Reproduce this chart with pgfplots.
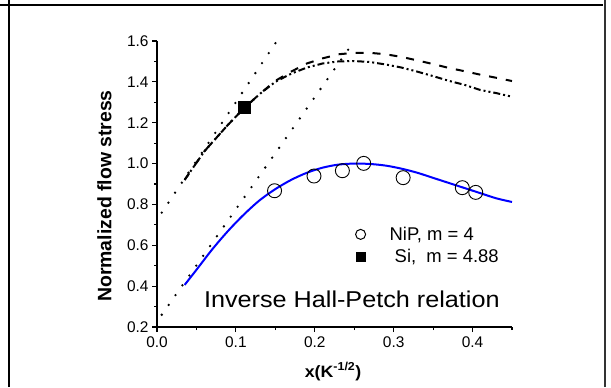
\documentclass[border=0pt]{standalone}
\usepackage{pgfplots}
\pgfplotsset{compat=1.18}
\usepackage{fontspec}
\setmainfont{Liberation Sans}
\begin{document}
\begin{tikzpicture}[x=1bp,y=1bp]
\useasboundingbox (0,0) rectangle (611,387);
\draw[line width=2bp] (0,382) -- (603,382);
\draw[line width=2bp] (8.7,0) -- (8.7,387);
\draw[line width=2bp, black!80] (605,0) -- (605,387);
\begin{axis}[
  at={(157bp,60bp)}, anchor=south west,
  scale only axis, width=355bp, height=286bp,
  xmin=0, xmax=0.45, ymin=0.2, ymax=1.6,
  axis x line*=bottom, axis y line*=left,
  axis line style={-, line width=1.5bp},
  xtick={0,0.1,0.2,0.3,0.4},
  minor xtick={0.05,0.15,0.25,0.35,0.45},
  ytick={0.2,0.4,0.6,0.8,1.0,1.2,1.4,1.6},
  minor ytick={0.3,0.5,0.7,0.9,1.1,1.3,1.5},
  tick align=outside,
  major tick length=5bp, minor tick length=3bp,
  every tick/.style={black, line width=1.2bp},
  /pgf/number format/.cd, fixed, fixed zerofill, precision=1, assume math mode=true,
  /pgfplots/.cd,
  tick label style={font=\fontsize{15.5}{17}\selectfont},
  xticklabel style={yshift=-1bp},
  clip=false,
  xlabel={\textbf{x(K\textsuperscript{-1/2})}},
  ylabel={\textbf{Normalized flow stress}},
  xlabel style={at={(axis description cs:0.496,-0.156)}, anchor=center, font=\fontsize{16.5}{18}\selectfont, xscale=1.08, transform shape},
  ylabel style={at={(axis description cs:-0.148,0.458)}, anchor=center, font=\fontsize{19.5}{21}\selectfont},
  legend style={draw=none, fill=none, inner sep=0pt, row sep=3bp,
    at={(axis cs:0.2515,0.60)}, anchor=west,
    font=\fontsize{18.5}{20}\selectfont,
    /tikz/every odd column/.append style={column sep=22bp}},
  legend cell align=left,
]
% dotted guide lines
\addplot[black, line width=2.6bp, line cap=round, dash pattern=on 0bp off 12bp, forget plot] coordinates {(0.006,0.76) (0.152,1.6)};
\addplot[black, line width=2.6bp, line cap=round, dash pattern=on 0bp off 12bp, forget plot] coordinates {(0.006,0.26) (0.25,1.6)};
% dashed
\addplot[black, line width=2bp, dash pattern=on 8bp off 9bp, forget plot] coordinates {
(0.035,0.92)(0.06,1.06)(0.09,1.19)(0.11,1.27)(0.13,1.34)(0.15,1.405)(0.17,1.45)(0.19,1.49)(0.21,1.515)(0.23,1.535)(0.25,1.542)(0.27,1.542)(0.29,1.535)(0.31,1.522)(0.33,1.505)(0.35,1.487)(0.37,1.468)(0.39,1.452)(0.41,1.435)(0.43,1.42)(0.45,1.404)};
% dash-dot-dot
\addplot[black, line width=2bp, dash pattern=on 7bp off 3bp on 2bp off 3bp on 2bp off 3bp, forget plot] coordinates {
(0.035,0.92)(0.06,1.06)(0.09,1.19)(0.11,1.27)(0.13,1.34)(0.15,1.40)(0.17,1.44)(0.19,1.47)(0.21,1.49)(0.23,1.50)(0.25,1.502)(0.27,1.497)(0.29,1.485)(0.31,1.47)(0.33,1.45)(0.35,1.428)(0.37,1.405)(0.39,1.385)(0.41,1.36)(0.43,1.345)(0.45,1.327)};
% blue fit
\addplot[blue, line width=2bp, smooth, forget plot] coordinates {
(0.035,0.406)(0.05,0.48)(0.07,0.58)(0.09,0.67)(0.11,0.75)(0.13,0.82)(0.15,0.875)(0.17,0.92)(0.19,0.955)(0.21,0.98)(0.23,0.995)(0.25,1.0)(0.27,0.998)(0.29,0.99)(0.31,0.975)(0.33,0.955)(0.35,0.93)(0.37,0.905)(0.39,0.88)(0.41,0.855)(0.43,0.83)(0.45,0.812)};
% data
\addplot[only marks, mark=o, mark size=7bp, mark options={black, line width=0.9bp}, forget plot] coordinates {
(0.149,0.867)(0.199,0.939)(0.235,0.965)(0.262,1.001)(0.312,0.931)(0.387,0.882)(0.404,0.859)};
\addplot[only marks, mark=square*, mark size=6bp, mark options={black}, forget plot] coordinates {(0.111,1.278)};
\addlegendimage{only marks, mark=o, mark size=5bp, mark options={black, line width=1bp}}
\addlegendentry{NiP, m = 4}
\addlegendimage{only marks, mark=square*, mark size=4.5bp, mark options={black}}
\addlegendentry{\ Si,\ \ m = 4.88}
\node[anchor=base, font=\fontsize{23}{26}\selectfont, xscale=1.1, transform shape] at (axis cs:0.247,0.297) {Inverse Hall-Petch relation};
\end{axis}
\end{tikzpicture}
\end{document}
